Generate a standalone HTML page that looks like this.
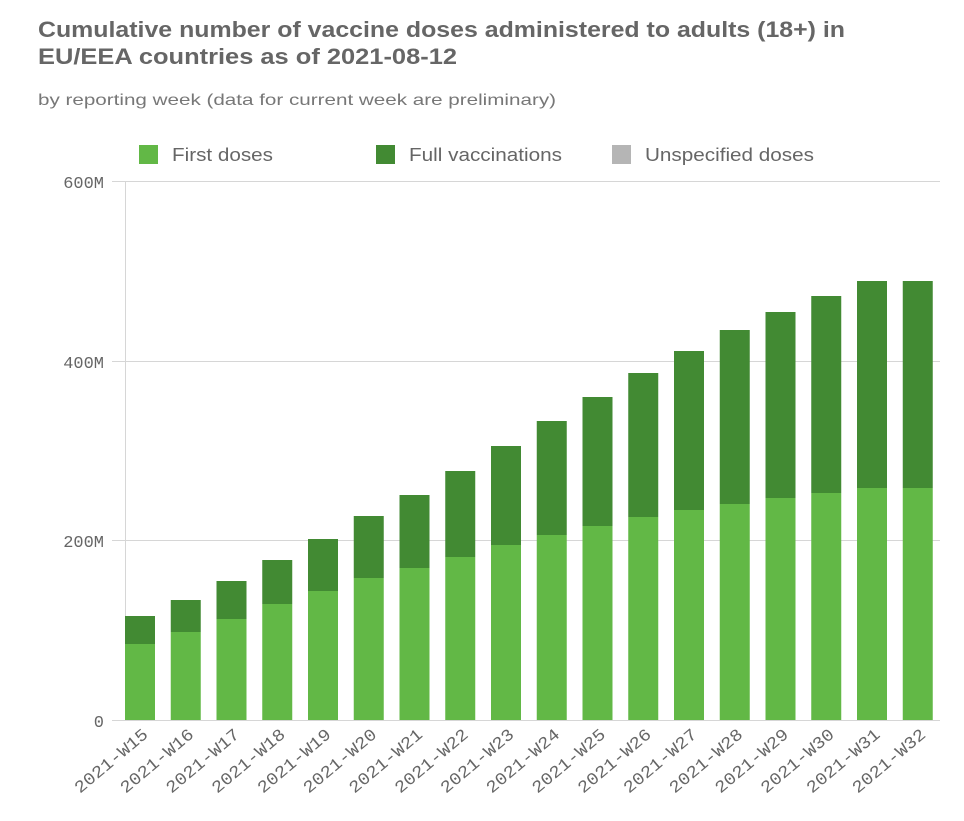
<!DOCTYPE html>
<html><head><meta charset="utf-8"><style>
body{margin:0;background:#fff;width:964px;height:816px;overflow:hidden;font-family:"Liberation Sans",sans-serif}
</style></head><body>
<svg width="964" height="816" xmlns="http://www.w3.org/2000/svg">
<text x="38" y="37" font-size="22" font-weight="bold" fill="#666" textLength="807" lengthAdjust="spacingAndGlyphs">Cumulative number of vaccine doses administered to adults (18+) in</text>
<text x="38" y="64" font-size="22" font-weight="bold" fill="#666" textLength="419" lengthAdjust="spacingAndGlyphs">EU/EEA countries as of 2021-08-12</text>
<text x="38" y="105" font-size="16" fill="#777" textLength="518" lengthAdjust="spacingAndGlyphs">by reporting week (data for current week are preliminary)</text>
<rect x="139" y="145" width="19" height="19" fill="#62b846"/>
<text x="172" y="161" font-size="18" fill="#666" textLength="101" lengthAdjust="spacingAndGlyphs">First doses</text>
<rect x="376" y="145" width="19" height="19" fill="#428a33"/>
<text x="409" y="161" font-size="18" fill="#666" textLength="153" lengthAdjust="spacingAndGlyphs">Full vaccinations</text>
<rect x="612" y="145" width="19" height="19" fill="#b5b5b5"/>
<text x="645" y="161" font-size="18" fill="#666" textLength="169" lengthAdjust="spacingAndGlyphs">Unspecified doses</text>
<g stroke="#d6d6d6" stroke-width="1">
<line x1="112" y1="181.5" x2="940" y2="181.5"/>
<line x1="112" y1="361.5" x2="940" y2="361.5"/>
<line x1="112" y1="540.5" x2="940" y2="540.5"/>
<line x1="112" y1="720.5" x2="940" y2="720.5"/>
<line x1="125.5" y1="181" x2="125.5" y2="720"/>
</g>
<g font-family="Liberation Mono,monospace" font-size="17" fill="#666" text-anchor="end">
<text x="104" y="188">600M</text><text x="104" y="368">400M</text><text x="104" y="547">200M</text><text x="104" y="727">0</text>
</g>
<g id="bars"></g>
<g id="labels" font-family="Liberation Mono,monospace" font-size="17" fill="#666" text-anchor="end"></g>
</svg>
<script>
var t=[616,600,581,560,539,516,495,471,446,421,397,373,351,330,312,296,281,281];
var f=[644,632,619,604,591,578,568,557,545,535,526,517,510,504,498,493,488,488];
var b=document.getElementById('bars'),l=document.getElementById('labels'),s="";
var ls="";
for(var i=0;i<18;i++){var x=125+i*45.75;
s+='<rect x="'+x+'" y="'+t[i]+'" width="30" height="'+(f[i]-t[i])+'" fill="#428a33"/>';
s+='<rect x="'+x+'" y="'+f[i]+'" width="30" height="'+(720-f[i])+'" fill="#62b846"/>';
var cx=x+24,cy=736;
ls+='<text x="'+cx+'" y="'+cy+'" textLength="90" lengthAdjust="spacingAndGlyphs" transform="rotate(-40 '+cx+' '+cy+')">2021-W'+(15+i)+'</text>';}
b.innerHTML=s;l.innerHTML=ls;
</script>
</body></html>
